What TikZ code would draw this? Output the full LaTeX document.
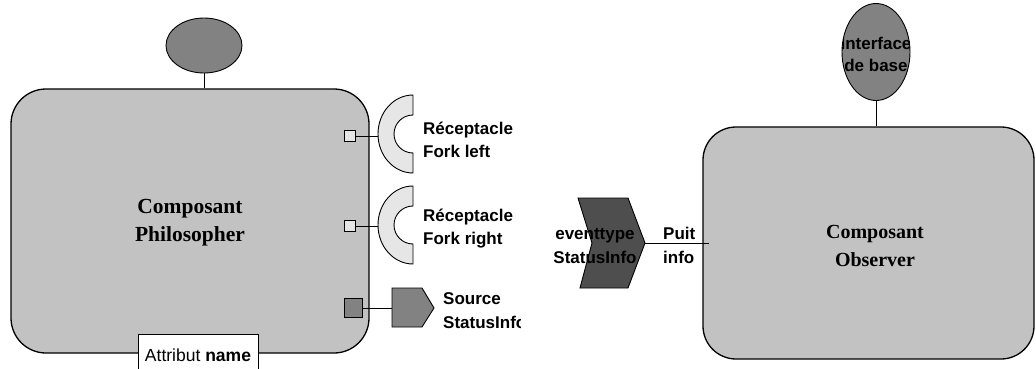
\documentclass[tikz,border=0pt]{standalone}
\usepackage{fontspec}
\setmainfont{Liberation Serif}
\setsansfont{Liberation Sans}
\usetikzlibrary{shapes.geometric}

% stacked lines with a fixed baseline distance; baseline = first line
\newcommand\lcol[2]{\vtop{\baselineskip=#1\halign{##\hfil\cr#2\crcr}}}
\newcommand\ccol[2]{\vtop{\baselineskip=#1\halign{\hfil##\hfil\cr#2\crcr}}}

\definecolor{boxgray}{HTML}{C2C2C2}
\definecolor{midgray}{HTML}{828282}
\definecolor{lightgray}{HTML}{E6E6E6}
\definecolor{darkgray}{HTML}{4E4E4E}

\begin{document}
\begin{tikzpicture}[x=1pt,y=-1pt,
  component/.style={draw=black, line width=1.3pt, fill=boxgray, inner sep=0pt},
  facet/.style={draw=black, line width=0.9pt, fill=midgray, ellipse, inner sep=0pt},
  port/.style={draw=black, line width=0.9pt, inner sep=0pt},
  wire/.style={draw=black, line width=0.9pt},
  label/.style={inner sep=0pt, font=\sffamily\bfseries\fontsize{17}{23}\selectfont},
  title/.style={inner sep=0pt, font=\rmfamily\bfseries},
]
\useasboundingbox (0,0) rectangle (1036,369);

% ---------- Philosopher component ----------
\node[component, rounded corners=35pt, minimum width=358pt, minimum height=264pt]
  (phil) at (190,221) {};
\node[title, anchor=base, font=\rmfamily\bfseries\fontsize{21.5}{28}\selectfont]
  (philtxt) at (190,213) {\ccol{28pt}{Composant\cr Philosopher}};

% facet on top
\node[facet, minimum width=76pt, minimum height=55pt] (phfacet) at (204,45.5) {};
\draw[wire] (phfacet.south) -- (phfacet.south |- phil.north);

% attribute tab
\node[draw=black, line width=1pt, fill=white, minimum width=120pt, minimum height=36pt,
      inner sep=0pt] (attr) at (198,352) {};
\node[anchor=base, inner sep=0pt, font=\sffamily\fontsize{17.5}{20}\selectfont]
  (attrtxt) at (198,361) {Attribut \textbf{name}};

% ports on the right side
\node[port, fill=lightgray, minimum width=11pt, minimum height=11pt] (sq1) at (350,136) {};
\node[port, fill=lightgray, minimum width=11pt, minimum height=11pt] (sq2) at (350,226) {};
\node[port, fill=midgray, minimum width=18pt, minimum height=19pt] (sq3) at (353,308) {};

% receptacles (half rings)
\coordinate (rec1) at (378,134);
\coordinate (rec2) at (378,225);
\draw[line width=0.9pt, fill=lightgray]
  (413,95) arc[start angle=270, end angle=90, x radius=35, y radius=39]
  -- (413,153) arc[start angle=90, end angle=270, radius=19] -- cycle;
\draw[line width=0.9pt, fill=lightgray]
  (413,186) arc[start angle=270, end angle=90, x radius=35, y radius=39]
  -- (413,244) arc[start angle=90, end angle=270, radius=19] -- cycle;
\draw[wire] (sq1.east) -- (sq1.east -| rec1);
\draw[wire] (sq2.east) -- (sq2.east -| rec2);

% event source
\coordinate (src) at (392,308);
\draw[line width=0.9pt, fill=midgray]
  (392,288) -- (422,288) -- (434,308) -- (422,327) -- (392,327) -- cycle;
\draw[wire] (sq3.east) -- (sq3.east -| src);

\node[label, anchor=base west] (rec1txt) at (423,134) {\lcol{23pt}{Réceptacle\cr Fork left}};
\node[label, anchor=base west] (rec2txt) at (423,221) {\lcol{23pt}{Réceptacle\cr Fork right}};
\begin{scope}
  \clip (438,280) rectangle (520.5,345);
  \node[label, anchor=base west] (srctxt) at (443,304) {\lcol{24pt}{Source\cr StatusInfo}};
\end{scope}

% ---------- Observer component ----------
\node[component, rounded corners=33pt, minimum width=331pt, minimum height=232pt]
  (obs) at (868.5,243) {};
\node[title, anchor=base, font=\rmfamily\bfseries\fontsize{20}{28}\selectfont]
  (obstxt) at (875,238) {\ccol{28pt}{Composant\cr Observer}};

% base interface facet
\node[facet, minimum width=68pt, minimum height=97pt] (iface) at (876,52) {};
\begin{scope}
  \clip (876,52) ellipse [x radius=34, y radius=48.5];
  \node[label, anchor=base] (ifacetxt) at (876,50) {\ccol{22pt}{Interface\cr de base}};
\end{scope}
\draw[wire] (iface.south) -- (iface.south |- obs.north);

% event sink
\coordinate (evtip) at (645,243);
\draw[line width=0.9pt, fill=darkgray]
  (578,198) -- (628,198) -- (evtip) -- (628,288) -- (580,288) -- (592,243) -- cycle;
\node[label, anchor=base] (evtxt) at (595,239) {\ccol{24pt}{eventtype\cr StatusInfo}};
\draw[wire] (evtip) -- ([xshift=7pt]evtip -| obs.west);
\node[label, anchor=base west] (sinktxt) at (663,239) {\lcol{24pt}{Puit\cr info}};

\end{tikzpicture}
\end{document}
